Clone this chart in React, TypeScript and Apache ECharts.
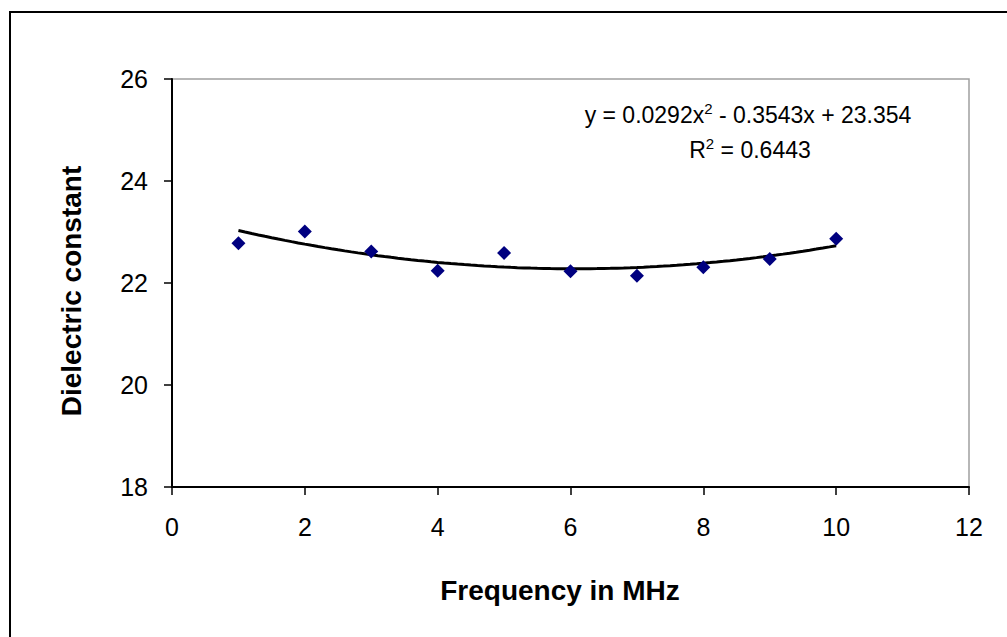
import React, { useEffect, useRef } from "react";
import * as echarts from "echarts";

const frequencies = [1, 2, 3, 4, 5, 6, 7, 8, 9, 10];
const dielectric = [22.78, 23.01, 22.62, 22.24, 22.59, 22.23, 22.14, 22.31, 22.47, 22.87];
// Trendline as stated in the chart: y = a x^2 + b x + c
const trendCoefficients = [0.0292, -0.3543, 23.354];
const equationText = "y = 0.0292x{sup|2} - 0.3543x + 23.354";
const r2Text = "R{sup|2} = 0.6443";
const xTitle = "Frequency in MHz";
const yTitle = "Dielectric constant";

export default function App() {
  const ref = useRef<HTMLDivElement>(null);
  useEffect(() => {
    if (!ref.current) return;
    const chart = echarts.init(ref.current, null, { renderer: "svg" });
    const [a, b, c] = trendCoefficients;
    const trend: number[][] = [];
    const x0 = frequencies[0];
    const x1 = frequencies[frequencies.length - 1];
    const steps = 90;
    for (let i = 0; i <= steps; i++) {
      const x = x0 + ((x1 - x0) * i) / steps;
      trend.push([x, a * x * x + b * x + c]);
    }
    const font = "'Liberation Sans', Arial, sans-serif";
    chart.setOption({
      animation: false,
      backgroundColor: "#ffffff",
      grid: {
        left: 172,
        top: 79,
        right: 38,
        bottom: 150,
        show: true,
        borderColor: "#a0a0a0",
        borderWidth: 1.5,
        backgroundColor: "transparent",
      },
      xAxis: {
        type: "value",
        min: 0,
        max: 12,
        interval: 2,
        splitLine: { show: false },
        axisLine: { show: true, onZero: false, lineStyle: { color: "#000", width: 2 } },
        axisTick: { show: true, length: 8, lineStyle: { color: "#000", width: 1.5 } },
        axisLabel: { color: "#000", fontSize: 25, fontFamily: font, margin: 27 },
      },
      yAxis: {
        type: "value",
        min: 18,
        max: 26,
        interval: 2,
        splitLine: { show: false },
        axisLine: { show: true, onZero: false, lineStyle: { color: "#000", width: 2 } },
        axisTick: { show: true, length: 8, lineStyle: { color: "#000", width: 1.5 } },
        axisLabel: { color: "#000", fontSize: 25, fontFamily: font, margin: 24 },
      },
      series: [
        {
          type: "line",
          data: trend,
          showSymbol: false,
          symbol: "none",
          lineStyle: { color: "#000", width: 3 },
          z: 2,
        },
        {
          type: "scatter",
          data: frequencies.map((f, i) => [f, dielectric[i]]),
          symbol: "diamond",
          symbolSize: [14, 14],
          itemStyle: { color: "#000080", opacity: 1 },
          z: 3,
        },
      ],
      graphic: [
        {
          type: "rect",
          shape: { x: 10, y: 12, width: 1200, height: 800 },
          style: { fill: "none", stroke: "#000", lineWidth: 2 },
          silent: true,
        },
        {
          type: "text",
          x: 748,
          y: 115,
          style: {
            text: equationText,
            fill: "#000",
            font: `23px ${font}`,
            align: "center",
            verticalAlign: "middle",
            rich: {
              sup: { fontSize: 15, verticalAlign: "top", padding: [0, 0, 14, 0], fontFamily: font, fill: "#000" },
            },
          },
        },
        {
          type: "text",
          x: 750,
          y: 150,
          style: {
            text: r2Text,
            fill: "#000",
            font: `23px ${font}`,
            align: "center",
            verticalAlign: "middle",
            rich: {
              sup: { fontSize: 15, verticalAlign: "top", padding: [0, 0, 14, 0], fontFamily: font, fill: "#000" },
            },
          },
        },
        {
          type: "text",
          x: 560,
          y: 590,
          style: {
            text: xTitle,
            fill: "#000",
            font: `bold 28px ${font}`,
            align: "center",
            verticalAlign: "middle",
          },
        },
        {
          type: "text",
          x: 71,
          y: 291,
          rotation: Math.PI / 2,
          style: {
            text: yTitle,
            fill: "#000",
            font: `bold 28px ${font}`,
            align: "center",
            verticalAlign: "middle",
          },
        },
      ],
    });
    return () => chart.dispose();
  }, []);
  return (
    <div
      ref={ref}
      style={{ position: "absolute", left: 0, top: 0, width: 1007, height: 637, background: "#fff" }}
    />
  );
}
